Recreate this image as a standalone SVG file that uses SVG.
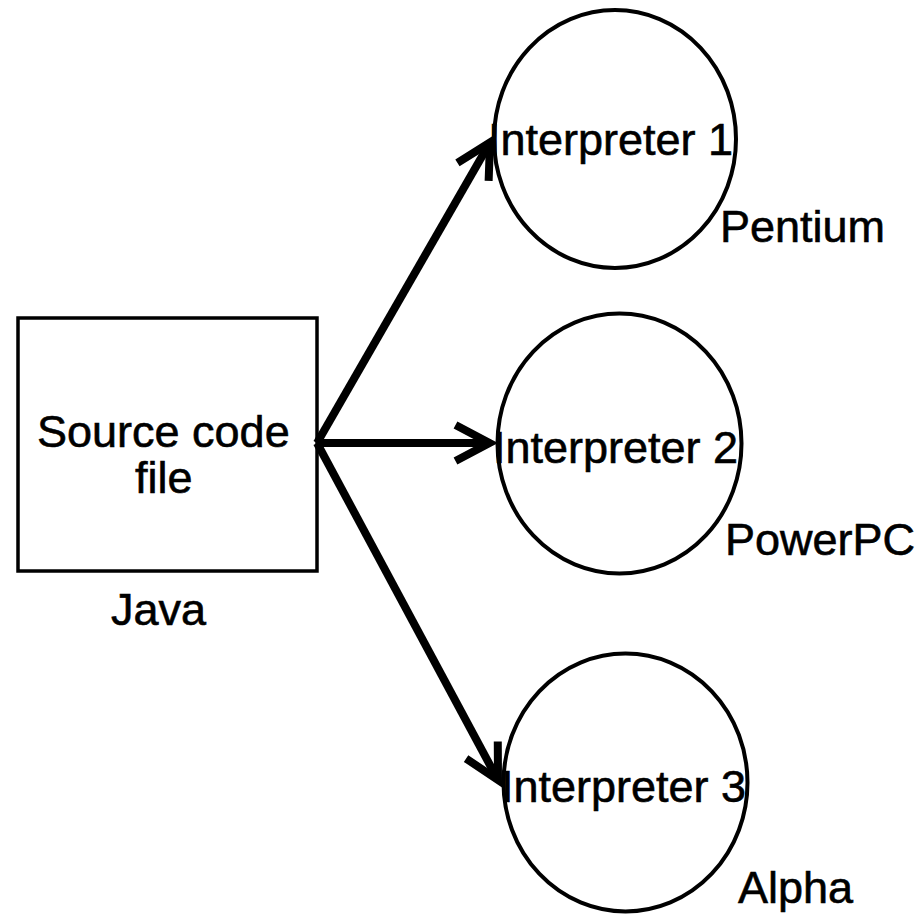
<svg xmlns="http://www.w3.org/2000/svg" width="922" height="914" viewBox="0 0 922 914">
  <style>
    .lbl { font-family: "Liberation Sans", Arial, sans-serif; font-size: 45px; fill: #000; stroke: #000; stroke-width: 0.6; }
    .node { fill: #fff; stroke: #000; stroke-width: 4; }
    .box { fill: #fff; stroke: #000; stroke-width: 3.5; }
    .edge { fill: none; stroke: #000; stroke-width: 8; stroke-linecap: butt; }
  </style>
  <defs>
    <marker id="chev" markerUnits="userSpaceOnUse" orient="auto" refX="0" refY="0" markerWidth="60" markerHeight="60" viewBox="-50 -30 60 60" overflow="visible">
      <path d="M -34 -18 L 0 0 L -34 18" fill="none" stroke="#000" stroke-width="8" stroke-linejoin="miter" stroke-miterlimit="10"/>
    </marker>
  </defs>
  <rect width="922" height="914" fill="#fff"/>

  <g id="source">
    <rect class="box" x="18" y="318" width="299" height="253"/>
    <text class="lbl"><tspan x="37" y="447">Source code</tspan><tspan x="135" y="493">file</tspan></text>
    <text class="lbl" x="111" y="625">Java</text>
  </g>

  <g id="interp1">
    <ellipse class="node" cx="615" cy="139" rx="121" ry="129"/>
    <text class="lbl" x="488" y="155">Interpreter 1</text>
    <text class="lbl" x="720" y="242">Pentium</text>
  </g>

  <g id="interp2">
    <ellipse class="node" cx="619.5" cy="443.5" rx="122" ry="130"/>
    <text class="lbl" x="493" y="463">Interpreter 2</text>
    <text class="lbl" x="725" y="555">PowerPC</text>
  </g>

  <g id="interp3">
    <ellipse class="node" cx="625.5" cy="782.5" rx="122" ry="129"/>
    <text class="lbl" x="501" y="802">Interpreter 3</text>
    <text class="lbl" x="738" y="903">Alpha</text>
  </g>

  <g id="connectors">
    <line class="edge" x1="317" y1="443" x2="490" y2="142.5" marker-end="url(#chev)"/>
    <line class="edge" x1="317" y1="443" x2="489.5" y2="443" marker-end="url(#chev)"/>
    <line class="edge" x1="317" y1="443" x2="498" y2="780" marker-end="url(#chev)"/>
  </g>
</svg>
